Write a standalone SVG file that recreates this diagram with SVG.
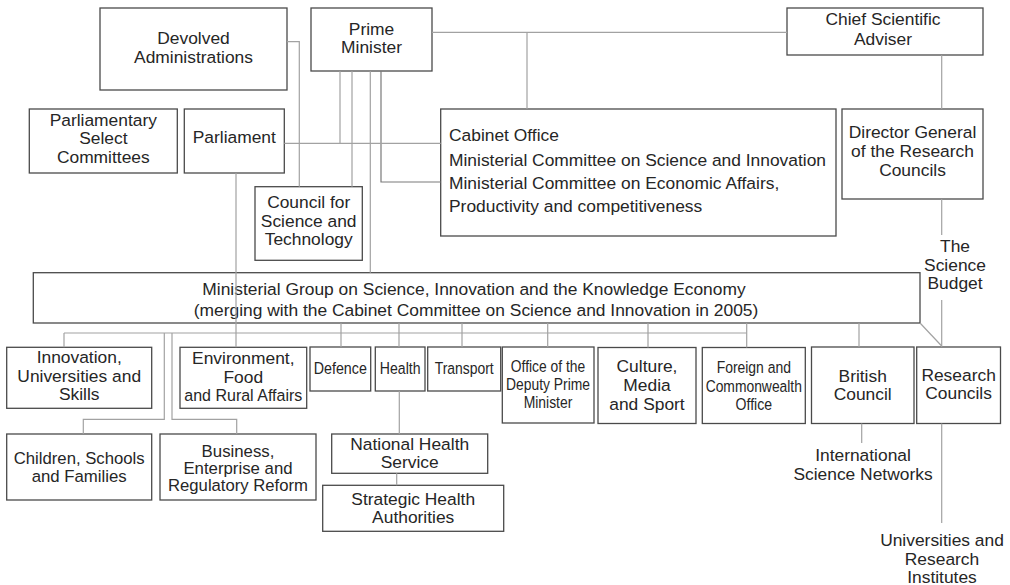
<svg xmlns="http://www.w3.org/2000/svg" width="1010" height="585" viewBox="0 0 1010 585">
  <style>
    .box { fill: #ffffff; stroke: #4a4a4a; stroke-width: 1.3; }
    .link { fill: none; stroke: #a2a2a2; stroke-width: 1.2; }
    .link.dark { stroke: #7a7a7a; }
    text { font-family: "Liberation Sans", Arial, Helvetica, sans-serif; font-size: 17.4px; fill: #262626; }
    .c { text-anchor: middle; }
    .tight { font-size: 16.8px; }
    .narrow { font-size: 16.4px; }
  </style>
  <rect width="1010" height="585" fill="#ffffff"/>

  <!-- boxes -->
  <g id="devolved">
    <rect class="box" x="100" y="8" width="187" height="82"/>
    <text class="c" x="193.5" y="44">Devolved</text>
    <text class="c" x="193.5" y="62.7">Administrations</text>
  </g>
  <g id="prime-minister">
    <rect class="box" x="311" y="8" width="121" height="63"/>
    <text class="c" x="371.5" y="35">Prime</text>
    <text class="c" x="371.5" y="53">Minister</text>
  </g>
  <g id="chief-scientific-adviser">
    <rect class="box" x="787" y="8" width="196" height="47"/>
    <text class="c" x="883" y="25">Chief Scientific</text>
    <text class="c" x="883" y="44.5">Adviser</text>
  </g>
  <g id="select-committees">
    <rect class="box" x="29.3" y="109" width="148" height="64"/>
    <text class="c" x="103.3" y="126">Parliamentary</text>
    <text class="c" x="103.3" y="144">Select</text>
    <text class="c" x="103.3" y="162.5">Committees</text>
  </g>
  <g id="parliament">
    <rect class="box" x="184.3" y="109" width="100" height="64"/>
    <text class="c" x="234.3" y="143.3">Parliament</text>
  </g>
  <g id="council-science-technology">
    <rect class="box" x="255" y="186.7" width="107.3" height="73.6"/>
    <text class="c" x="308.7" y="208.3">Council for</text>
    <text class="c" x="308.7" y="226.7">Science and</text>
    <text class="c" x="308.7" y="245">Technology</text>
  </g>
  <g id="cabinet-office">
    <rect class="box" x="440.7" y="109" width="395.3" height="127"/>
    <text x="449" y="140.7" font-size="17.1">Cabinet Office</text>
    <text x="449" y="165.7" font-size="17.1">Ministerial Committee on Science and Innovation</text>
    <text x="449" y="189" font-size="17.1">Ministerial Committee on Economic Affairs,</text>
    <text x="449" y="212.3" font-size="17.1">Productivity and competitiveness</text>
  </g>
  <g id="director-general">
    <rect class="box" x="842" y="109" width="141" height="90"/>
    <text class="c" x="912.5" y="138.3">Director General</text>
    <text class="c" x="912.5" y="157">of the Research</text>
    <text class="c" x="912.5" y="175.7">Councils</text>
  </g>
  <g id="science-budget">
    <text class="c" x="955" y="252.3">The</text>
    <text class="c" x="955" y="270.7">Science</text>
    <text class="c" x="955" y="289">Budget</text>
  </g>
  <g id="ministerial-group">
    <rect class="box" x="33.3" y="272.7" width="886.7" height="50.3"/>
    <text class="c" x="474" y="295">Ministerial Group on Science, Innovation and the Knowledge Economy</text>
    <text class="c" x="476" y="316">(merging with the Cabinet Committee on Science and Innovation in 2005)</text>
  </g>
  <g id="innovation-universities-skills">
    <rect class="box" x="6.7" y="347.3" width="145" height="61"/>
    <text class="c" x="79.2" y="363.3">Innovation,</text>
    <text class="c" x="79.2" y="381.7">Universities and</text>
    <text class="c" x="79.2" y="400.3">Skills</text>
  </g>
  <g id="environment-food-rural">
    <rect class="box" x="180" y="347.3" width="126.7" height="61"/>
    <text class="c" x="243.3" y="364">Environment,</text>
    <text class="c" x="243.3" y="382.5">Food</text>
    <text class="c" x="243.3" y="400.7" textLength="118" lengthAdjust="spacingAndGlyphs">and Rural Affairs</text>
  </g>
  <g id="defence">
    <rect class="box" x="310" y="347" width="60.7" height="44"/>
    <text class="c" x="340.3" y="374" textLength="53" lengthAdjust="spacingAndGlyphs">Defence</text>
  </g>
  <g id="health">
    <rect class="box" x="375.3" y="347" width="49.7" height="44"/>
    <text class="c" x="400.2" y="374" textLength="40.7" lengthAdjust="spacingAndGlyphs">Health</text>
  </g>
  <g id="transport">
    <rect class="box" x="427.7" y="347" width="73" height="44"/>
    <text class="c" x="464.2" y="374" textLength="59" lengthAdjust="spacingAndGlyphs">Transport</text>
  </g>
  <g id="deputy-prime-minister">
    <rect class="box" x="502.3" y="347" width="91.7" height="76"/>
    <text class="c narrow" x="548" y="371.7" textLength="74.3" lengthAdjust="spacingAndGlyphs">Office of the</text>
    <text class="c narrow" x="548" y="389.5" textLength="84" lengthAdjust="spacingAndGlyphs">Deputy Prime</text>
    <text class="c narrow" x="548" y="407.7" textLength="48.7" lengthAdjust="spacingAndGlyphs">Minister</text>
  </g>
  <g id="culture-media-sport">
    <rect class="box" x="598" y="347.5" width="98" height="76"/>
    <text class="c" x="647" y="372.2">Culture,</text>
    <text class="c" x="647" y="391">Media</text>
    <text class="c" x="647" y="410.3">and Sport</text>
  </g>
  <g id="foreign-commonwealth">
    <rect class="box" x="702.3" y="347.5" width="103" height="76"/>
    <text class="c" x="753.8" y="373" textLength="74.3" lengthAdjust="spacingAndGlyphs">Foreign and</text>
    <text class="c" x="753.8" y="391.8" textLength="96.3" lengthAdjust="spacingAndGlyphs">Commonwealth</text>
    <text class="c" x="753.8" y="410.3" textLength="36.5" lengthAdjust="spacingAndGlyphs">Office</text>
  </g>
  <g id="british-council">
    <rect class="box" x="811.5" y="347" width="102.5" height="76.5"/>
    <text class="c" x="862.7" y="381.6">British</text>
    <text class="c" x="862.7" y="400.2">Council</text>
  </g>
  <g id="research-councils">
    <rect class="box" x="916.7" y="347" width="83.8" height="76.5"/>
    <text class="c" x="958.6" y="381">Research</text>
    <text class="c" x="958.6" y="399.2">Councils</text>
  </g>
  <g id="children-schools-families">
    <rect class="box" x="6.7" y="434" width="145" height="66"/>
    <text class="c tight" x="79.2" y="463.5" textLength="131" lengthAdjust="spacingAndGlyphs">Children, Schools</text>
    <text class="c tight" x="79.2" y="481.5">and Families</text>
  </g>
  <g id="business-enterprise">
    <rect class="box" x="160" y="434" width="156" height="66"/>
    <text class="c tight" x="238" y="457">Business,</text>
    <text class="c tight" x="238" y="474.3">Enterprise and</text>
    <text class="c tight" x="238" y="491.3" textLength="140" lengthAdjust="spacingAndGlyphs">Regulatory Reform</text>
  </g>
  <g id="national-health-service">
    <rect class="box" x="331.7" y="434" width="156" height="39.3"/>
    <text class="c" x="409.7" y="450">National Health</text>
    <text class="c" x="409.7" y="468.3">Service</text>
  </g>
  <g id="strategic-health-authorities">
    <rect class="box" x="322.7" y="485.3" width="181" height="46"/>
    <text class="c" x="413.2" y="505">Strategic Health</text>
    <text class="c" x="413.2" y="523.3">Authorities</text>
  </g>
  <g id="international-science-networks">
    <text class="c" x="863" y="460.7">International</text>
    <text class="c" x="863" y="480">Science Networks</text>
  </g>
  <g id="universities-institutes">
    <text class="c" x="942" y="546">Universities and</text>
    <text class="c" x="942" y="564.5">Research</text>
    <text class="c" x="942" y="583">Institutes</text>
  </g>

  <!-- connectors -->
  <g id="connectors">
    <polyline class="link" points="287,41.7 299.3,41.7 299.3,186.7"/>
    <line class="link" x1="340" y1="71" x2="340" y2="143.3"/>
    <line class="link" x1="352" y1="71" x2="352" y2="186.7"/>
    <line class="link" x1="370.3" y1="71" x2="370.3" y2="272.7"/>
    <polyline class="link dark" points="381,71 381,182 440.7,182"/>
    <line class="link" x1="284.3" y1="143.3" x2="440.7" y2="143.3"/>
    <line class="link" x1="236" y1="173" x2="236" y2="347.3"/>
    <line class="link" x1="432" y1="32.3" x2="787" y2="32.3"/>
    <line class="link" x1="527" y1="32.3" x2="527" y2="109"/>
    <line class="link" x1="941.7" y1="55" x2="941.7" y2="109"/>
    <line class="link" x1="941.7" y1="199" x2="941.7" y2="235"/>
    <line class="link" x1="941.7" y1="300" x2="941.7" y2="347"/>
    <line class="link" x1="920" y1="323" x2="941.7" y2="346"/>
    <line class="link" x1="859" y1="323" x2="859" y2="347"/>
    <line class="link" x1="861.7" y1="423.5" x2="861.7" y2="443"/>
    <line class="link" x1="941.7" y1="423.5" x2="941.7" y2="523"/>
    <line class="link" x1="64" y1="333" x2="746.7" y2="333"/>
    <line class="link" x1="64" y1="333" x2="64" y2="347.3"/>
    <line class="link" x1="341" y1="323" x2="341" y2="347"/>
    <line class="link" x1="399" y1="323" x2="399" y2="347"/>
    <line class="link" x1="462" y1="323" x2="462" y2="347"/>
    <line class="link" x1="547.7" y1="323" x2="547.7" y2="347"/>
    <line class="link" x1="648" y1="323" x2="648" y2="347.5"/>
    <line class="link" x1="746.7" y1="323" x2="746.7" y2="347.5"/>
    <polyline class="link" points="164.3,333 164.3,419.3 83.3,419.3 83.3,434"/>
    <polyline class="link" points="172,333 172,419.3 236.7,419.3 236.7,434"/>
    <line class="link" x1="399.3" y1="391" x2="399.3" y2="434"/>
    <line class="link" x1="396.7" y1="473.3" x2="396.7" y2="485.3"/>
  </g>
</svg>
